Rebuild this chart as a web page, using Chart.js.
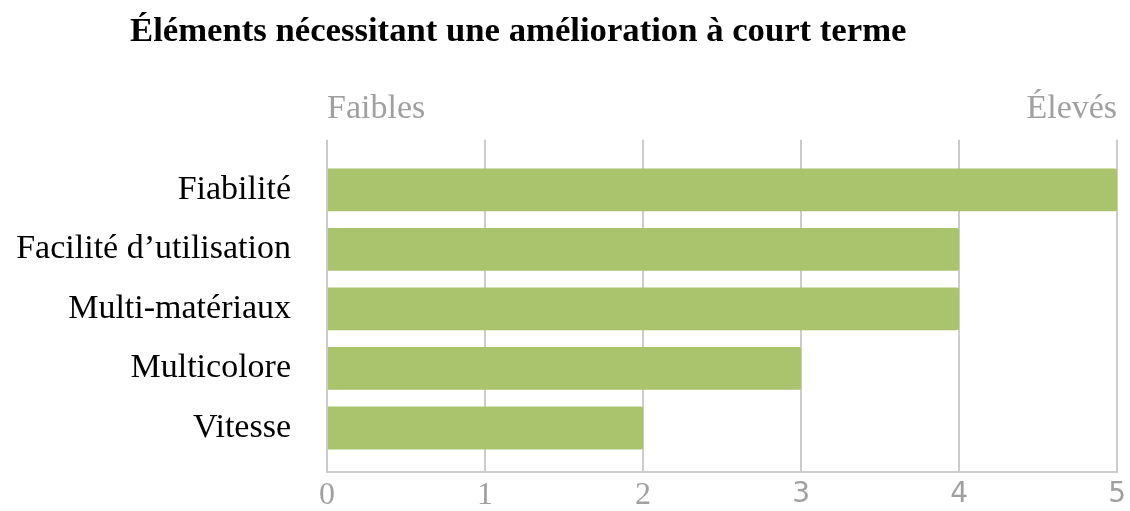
<!DOCTYPE html>
<html><head><meta charset="utf-8">
<script src="https://cdn.jsdelivr.net/npm/chart.js@4.4.0/dist/chart.umd.min.js"></script>
<style>
html,body{margin:0;padding:0;background:#fff;}
#wrap{position:relative;width:1130px;height:511px;}
#title{position:absolute;left:130px;top:10px;font-family:"Liberation Serif","Times New Roman",serif;font-weight:bold;font-size:34.7px;line-height:normal;color:#000;white-space:nowrap;}
canvas{position:absolute;left:0;top:0;}
</style></head>
<body><div id="wrap"><canvas id="c" width="1130" height="511"></canvas><div id="title">Éléments nécessitant une amélioration à court terme</div></div>
<script>
const categories = ["Fiabilité", "Facilité d’utilisation", "Multi-matériaux", "Multicolore", "Vitesse"];
const values = [5, 4, 4, 3, 2];
const xTicks = [0, 1, 2, 3, 4, 5];
const topLabels = ["Faibles", "Élevés"];

const serif = '"Liberation Serif","Times New Roman",serif';
const sans = '"DejaVu Sans",sans-serif';
new Chart(document.getElementById('c'), {
  type: 'bar',
  data: {
    datasets: [{
      data: values.map((v, i) => ({x: v, y: i})),
      backgroundColor: '#a9c46c',
      borderWidth: 0,
      borderRadius: 2,
      barPercentage: 0.72,
      categoryPercentage: 1.0,
      xAxisID: 'x',
      yAxisID: 'y'
    }]
  },
  options: {
    indexAxis: 'y',
    responsive: false,
    animation: false,
    layout: {padding: {left: 0, right: 11, top: 79, bottom: 0}},
    plugins: {legend: {display: false}, tooltip: {enabled: false}},
    scales: {
      y: {
        type: 'linear',
        reverse: true,
        offset: false,
        min: -0.84,
        max: 4.74,
        afterBuildTicks: s => { s.ticks = categories.map((c, i) => ({value: i})); },
        afterFit: s => { s.width = 327; s.paddingTop = 0; s.paddingBottom = 0; },
        ticks: {
          callback: v => categories[v],
          color: '#000',
          font: {family: serif, size: 34},
          padding: 28
        },
        grid: {display: false, offset: false},
        border: {display: false}
      },
      x: {
        type: 'linear',
        position: 'bottom',
        min: 0,
        max: 5,
        afterBuildTicks: s => { s.ticks = xTicks.map(v => ({value: v})); },
        afterFit: s => { s.height = 39; },
        ticks: {
          color: '#a0a0a0',
          font: ctx => ctx.index < 3 ? {family: serif, size: 32} : {family: sans, size: 28, lineHeight: 1.37},
          padding: 4
        },
        grid: {color: '#cccccc', lineWidth: 2, drawTicks: false},
        border: {display: true, color: '#cccccc', width: 2}
      },
      x2: {
        type: 'linear',
        position: 'top',
        min: 0,
        max: 5,
        afterBuildTicks: s => { s.ticks = [{value: 0}, {value: 5}]; },
        ticks: {
          callback: (v) => v === 0 ? topLabels[0] : topLabels[1],
          align: 'inner',
          color: '#a0a0a0',
          font: {family: serif, size: 34},
          padding: 10
        },
        grid: {display: false, drawTicks: false},
        border: {display: false}
      }
    }
  }
});
</script>
</body></html>
